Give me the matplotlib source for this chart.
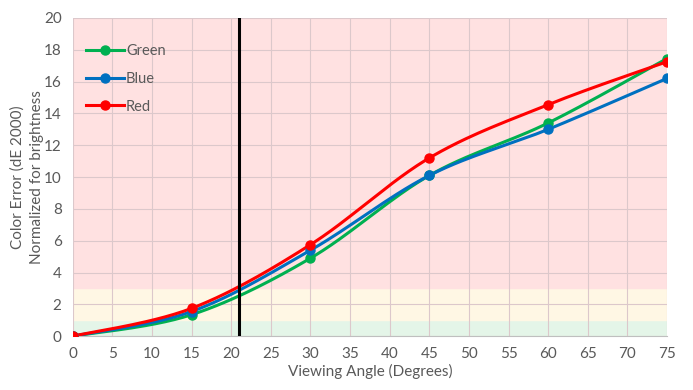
import numpy as np
import matplotlib
matplotlib.use("Agg")
import matplotlib.pyplot as plt

angles = [0, 15, 30, 45, 60, 75]
green = [0, 1.35, 4.9, 10.1, 13.4, 17.45]
blue = [0, 1.55, 5.4, 10.1, 13.0, 16.2]
red = [0, 1.75, 5.75, 11.2, 14.55, 17.25]
series_names = ["Green", "Blue", "Red"]
series_colors = ["#00B050", "#0070C0", "#FF0000"]
marker_angle = 21


def smooth(x, y, n=30):
    # excel-like smoothing: cubic bezier through the points (catmull-rom handles)
    x = np.asarray(x, float)
    y = np.asarray(y, float)
    xs, ys = [], []
    for i in range(len(x) - 1):
        p0 = np.array([x[max(i - 1, 0)], y[max(i - 1, 0)]])
        p1 = np.array([x[i], y[i]])
        p2 = np.array([x[i + 1], y[i + 1]])
        p3 = np.array([x[min(i + 2, len(x) - 1)], y[min(i + 2, len(x) - 1)]])
        c1 = p1 + (p2 - p0) / 6
        c2 = p2 - (p3 - p1) / 6
        t = np.linspace(0, 1, n)[:, None]
        pts = (1 - t) ** 3 * p1 + 3 * (1 - t) ** 2 * t * c1 + 3 * (1 - t) * t ** 2 * c2 + t ** 3 * p2
        xs.extend(pts[:, 0])
        ys.extend(pts[:, 1])
    return xs, ys


plt.rcParams["font.family"] = ["Lato", "DejaVu Sans"]
fig = plt.figure(figsize=(6.93, 3.9), dpi=100)
ax = fig.add_axes([0.105, 0.138, 0.8575, 0.816])

ax.axhspan(0, 1, color="#E4F5E8", zorder=0)
ax.axhspan(1, 3, color="#FFF7E4", zorder=0)
ax.axhspan(3, 20, color="#FFE1E1", zorder=0)

for name, vals, col in zip(series_names, [green, blue, red], series_colors):
    sx, sy = smooth(angles, vals)
    ax.plot(sx, sy, color=col, lw=2.2, zorder=3)
    ax.plot(angles, vals, "o", color=col, ms=6.5, zorder=4)
    ax.plot([], [], "-o", color=col, lw=2.2, ms=6.5, label=name)

ax.axvline(marker_angle, color="black", lw=2.2, zorder=5)

ax.set_xlim(0, 75)
ax.set_ylim(0, 20)
ax.set_xticks(range(0, 76, 5))
ax.set_yticks(range(0, 21, 2))
ax.grid(True, color="#DCC8CB", lw=0.8, zorder=1)
ax.set_axisbelow(True)
for s in ["top", "right", "left"]:
    ax.spines[s].set_visible(False)
ax.spines["bottom"].set_color("#BFBFBF")
ax.tick_params(length=0, colors="#595959", labelsize=11, pad=8)

ax.set_xlabel("Viewing Angle (Degrees)", color="#595959", fontsize=11, labelpad=2)
ax.set_ylabel("Color Error (dE 2000)\nNormalized for brightness", color="#595959",
              fontsize=11, labelpad=0, linespacing=1.5)

leg = ax.legend(loc="upper left", bbox_to_anchor=(0.0, 0.96), frameon=False,
                fontsize=10.5, labelspacing=0.95, handlelength=2.6, handletextpad=0.15)
for t in leg.get_texts():
    t.set_color("#595959")

fig.savefig("out.png", dpi=100)
